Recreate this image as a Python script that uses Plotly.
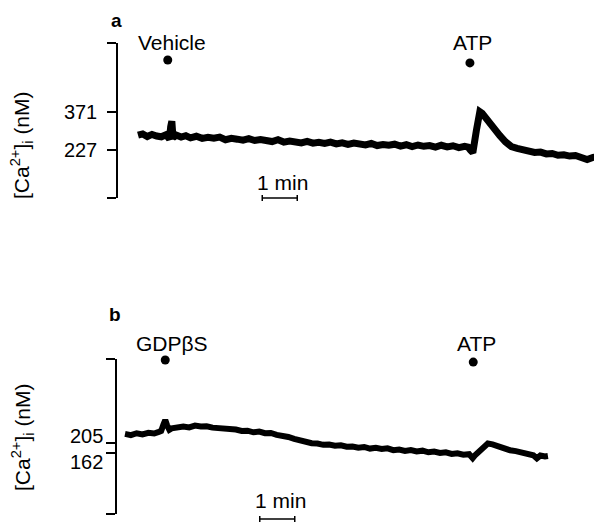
import plotly.graph_objects as go

# ---------------- data ----------------
# panel a: time (s) and [Ca2+]i (nM)
t_a = [0, 8, 16, 24, 32, 40, 48, 54, 56, 58, 60, 66, 74, 82, 90, 100, 110, 120, 130, 140,
       150, 160, 170, 180, 190, 200, 210, 220, 230, 240, 250, 260, 270, 280, 290, 300,
       310, 320, 330, 340, 350, 360, 370, 380, 390, 400, 410, 420, 430, 440, 450, 460,
       470, 480, 490, 500, 510, 520, 530, 540, 550, 560, 566, 570, 574, 580, 586, 590, 596,
       602, 610, 620, 630, 640, 650, 660, 670, 680, 690, 700, 710, 720, 730, 740, 750,
       760, 770, 780, 790]
ca_a = [283, 288, 278, 286, 280, 277, 285, 268, 315, 336, 274, 283, 276, 281, 273, 279,
        271, 275, 272, 276, 266, 271, 268, 264, 270, 263, 267, 262, 259, 266, 257, 261,
        258, 254, 260, 253, 256, 252, 257, 250, 254, 248, 253, 249, 246, 252, 244, 248,
        245, 249, 242, 247, 240, 246, 241, 244, 238, 245, 239, 243, 236, 241, 238, 226,
        217, 300, 372, 366, 348, 326, 304, 282, 258, 240, 233, 226, 224, 218, 219, 212,
        214, 207, 209, 204, 206, 200, 191, 199, 201]

# panel b
t_b = [0, 10, 20, 30, 40, 50, 58, 62, 66, 69, 72, 76, 80, 90, 100, 110, 120, 130, 140,
       150, 160, 170, 180, 190, 200, 210, 220, 230, 240, 250, 260, 270, 280, 290, 300,
       310, 320, 330, 340, 350, 360, 370, 380, 390, 400, 410, 420, 430, 440, 450, 460,
       470, 480, 490, 500, 510, 520, 530, 540, 550, 560, 570, 580, 590, 596, 600, 608,
       616, 622, 630, 640, 650, 660, 670, 680, 690, 700, 706, 712, 720, 725]
ca_b = [244, 239, 247, 242, 249, 246, 253, 257, 285, 304, 282, 262, 268, 273, 276, 272,
        280, 276, 277, 271, 269, 271, 264, 263, 257, 258, 251, 254, 247, 248, 240, 238,
        231, 223, 215, 211, 204, 203, 197, 198, 193, 195, 189, 190, 185, 188, 181, 184,
        179, 182, 174, 177, 171, 175, 169, 172, 165, 168, 162, 165, 158, 161, 155, 157,
        140, 152, 170, 192, 203, 199, 190, 184, 174, 170, 163, 160, 152, 139, 151, 147, 149]

# events: (label, time of dot s, dot level nM, time of label centre s)
events_a = [("Vehicle", 51, 568, 58), ("ATP", 569, 557, 574)]
events_b = [("GDPβS", 69, 562, 81), ("ATP", 597, 553, 603)]

ticks_a = [45.1, 227, 371, 632.5]
ticktext_a = ["", "227", "371", ""]
ticks_b = [-100.3, 162, 205, 566.2]
ticklabels_b = [162, 205]

scalebar_a = (213, 273)
scalebar_b = (231, 291)

# ---------------- figure ----------------
OFF = 8                      # default page margin
FW, FH = 602 - OFF, 522 - OFF
FONT = "Liberation Sans"
FS = 21


def PX(px):
    return (px - OFF) / FW


def PY(py):
    return 1 - (py - OFF) / FH


fig = go.Figure()
fig.add_trace(go.Scatter(x=t_a, y=ca_a, mode="lines", line=dict(color="black", width=7),
                         xaxis="x", yaxis="y", showlegend=False, hoverinfo="skip"))
fig.add_trace(go.Scatter(x=t_b, y=ca_b, mode="lines", line=dict(color="black", width=6),
                         xaxis="x2", yaxis="y2", showlegend=False, hoverinfo="skip"))

fig.add_trace(go.Scatter(x=[e[1] for e in events_a], y=[e[2] for e in events_a],
                         mode="markers", marker=dict(color="black", size=9),
                         cliponaxis=False, xaxis="x", yaxis="y", showlegend=False))
fig.add_trace(go.Scatter(x=[e[1] for e in events_b], y=[e[2] for e in events_b],
                         mode="markers", marker=dict(color="black", size=9),
                         cliponaxis=False, xaxis="x2", yaxis="y2", showlegend=False))

xr_a = [(118 - 138) * 60 / 35, (602 - 138) * 60 / 35]
xr_b = [(117 - 125) * 60 / 35, (602 - 125) * 60 / 35]

yax = dict(showline=True, linecolor="black", linewidth=1.5, ticks="outside", ticklen=9,
           tickwidth=1.5, tickcolor="black", showgrid=False, zeroline=False,
           tickfont=dict(family=FONT, size=20, color="black"), ticklabelstandoff=6)

fig.update_layout(
    width=FW, height=FH, margin=dict(l=0, r=0, t=0, b=0),
    paper_bgcolor="white", plot_bgcolor="white",
    xaxis=dict(domain=[PX(118), 1], range=xr_a, visible=False),
    yaxis=dict(domain=[PY(198), PY(43)], range=[45.1, 632.5], tickvals=ticks_a,
               ticktext=ticktext_a, **yax),
    xaxis2=dict(domain=[PX(117), 1], range=xr_b, visible=False, anchor="y2"),
    yaxis2=dict(domain=[PY(514), PY(359)], range=[-100.3, 566.2], tickvals=ticks_b,
                ticktext=["", "", "", ""], anchor="x2", **yax),
)

ann = []
for (lab, tm, lv, tl) in events_a:
    ann.append(dict(x=tl, y=PY(43), xref="x", yref="paper", text=lab, showarrow=False,
                    xanchor="center", yanchor="middle",
                    font=dict(family=FONT, size=FS, color="black")))
for (lab, tm, lv, tl) in events_b:
    ann.append(dict(x=tl, y=PY(343), xref="x2", yref="paper", text=lab, showarrow=False,
                    xanchor="center", yanchor="middle",
                    font=dict(family=FONT, size=FS, color="black")))

# tick labels of panel b (labels sit just above / below their close ticks)
for v, shift in zip(ticklabels_b, [-9, 7]):
    ann.append(dict(x=PX(105), y=v, xref="paper", yref="y2", text=str(v), showarrow=False,
                    xanchor="right", yanchor="middle", yshift=shift,
                    font=dict(family=FONT, size=20, color="black")))

ytitle = "[Ca<sup>2+</sup>]<sub>i</sub> (nM)"
for yc in (145, 437):
    ann.append(dict(x=PX(22), y=PY(yc), xref="paper", yref="paper", text=ytitle,
                    textangle=-90, showarrow=False, xanchor="center", yanchor="middle",
                    font=dict(family=FONT, size=FS, color="black")))
ann.append(dict(x=PX(116), y=PY(20), xref="paper", yref="paper", text="<b>a</b>",
                showarrow=False, xanchor="center", yanchor="middle",
                font=dict(family=FONT, size=19, color="black")))
ann.append(dict(x=PX(115), y=PY(314), xref="paper", yref="paper", text="<b>b</b>",
                showarrow=False, xanchor="center", yanchor="middle",
                font=dict(family=FONT, size=19, color="black")))

# scale bars
shapes = []


def dom(t, rng):
    return (t - rng[0]) / (rng[1] - rng[0])


for (sb, rng, xr, ypx, tpx) in [(scalebar_a, xr_a, "x domain", 198, 182),
                                 (scalebar_b, xr_b, "x2 domain", 519, 500)]:
    x0, x1 = dom(sb[0], rng), dom(sb[1], rng)
    shapes.append(dict(type="line", xref=xr, yref="paper", x0=x0, x1=x1, y0=PY(ypx), y1=PY(ypx),
                       line=dict(color="black", width=1.5)))
    for xx in (x0, x1):
        shapes.append(dict(type="line", xref=xr, yref="paper", x0=xx, x1=xx,
                           y0=PY(ypx - 3), y1=PY(ypx + 3), line=dict(color="black", width=1.5)))
    ann.append(dict(x=(x0 + x1) / 2 + 0.006, y=PY(tpx), xref=xr, yref="paper", text="1 min",
                    showarrow=False, xanchor="center", yanchor="middle",
                    font=dict(family=FONT, size=FS, color="black")))

fig.update_layout(annotations=ann, shapes=shapes)
fig.write_html("out.html")
